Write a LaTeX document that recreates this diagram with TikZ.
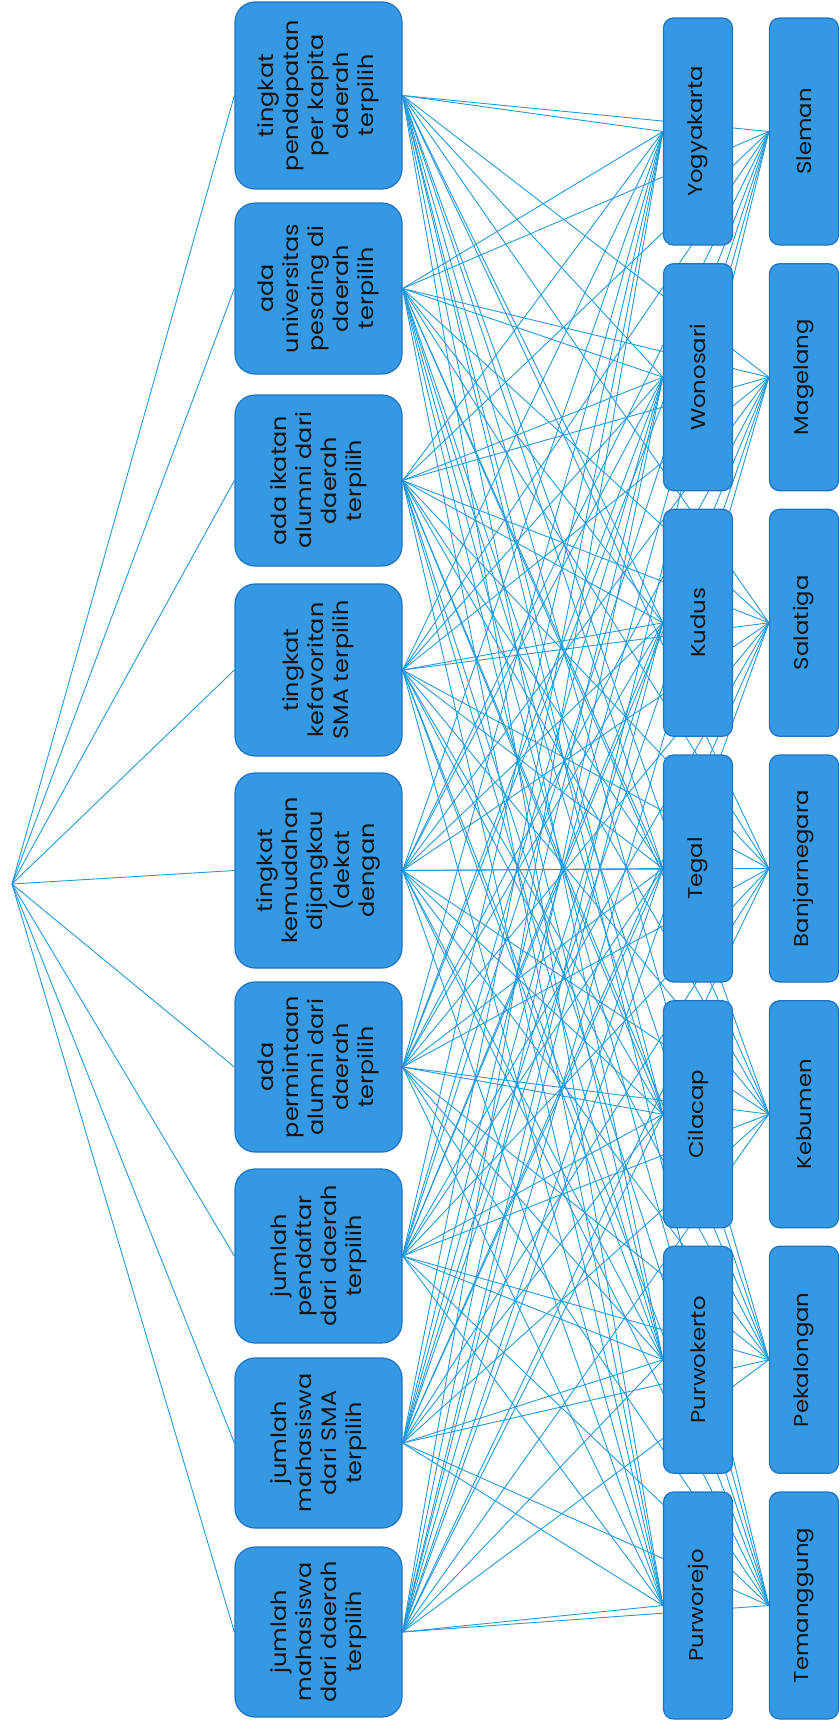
\documentclass[tikz,border=0pt]{standalone}
\usepackage{fontspec}
\setmainfont[FakeStretch=1.14]{Poppins}
\usetikzlibrary{backgrounds}
\definecolor{boxfill}{HTML}{3598E3}
\definecolor{boxedge}{HTML}{1E74C4}
\definecolor{wirecol}{HTML}{2199DA}
\definecolor{txt}{HTML}{141414}
\newcommand{\crittext}[1]{\rotatebox{90}{\fontsize{21}{25}\selectfont\begin{tabular}{@{}c@{}}#1\end{tabular}}}
\newcommand{\alttext}[1]{\rotatebox{90}{\fontsize{20}{25}\selectfont #1}}
\tikzset{
  critbox/.style={draw=boxedge, line width=1.2pt, fill=boxfill, rounded corners=20pt,
    minimum width=167pt, inner sep=0pt, text=txt},
  altbox/.style={draw=boxedge, line width=1.2pt, fill=boxfill, rounded corners=10pt,
    minimum width=69pt, minimum height=227pt, inner sep=0pt, text=txt},
  wire/.style={draw=wirecol, line width=0.9pt}
}
\begin{document}
\begin{tikzpicture}[x=1pt, y=-1pt]
\useasboundingbox (0,0) rectangle (840,1724);
\coordinate (root) at (12,884);
% criteria
\node[critbox, minimum height=187pt] (c1) at (318.5,95.5) {\crittext{tingkat\\pendapatan\\per kapita\\daerah\\terpilih}};
\node[critbox, minimum height=171pt] (c2) at (318.5,288.5) {\crittext{ada\\universitas\\pesaing di\\daerah\\terpilih}};
\node[critbox, minimum height=171pt] (c3) at (318.5,480.5) {\crittext{ada ikatan\\alumni dari\\daerah\\terpilih}};
\node[critbox, minimum height=172pt] (c4) at (318.5,670) {\crittext{tingkat\\kefavoritan\\SMA terpilih}};
\node[critbox, minimum height=195pt] (c5) at (318.5,870.5) {\crittext{tingkat\\kemudahan\\dijangkau\\(dekat\\dengan}};
\node[critbox, minimum height=170pt] (c6) at (318.5,1067) {\crittext{ada\\permintaan\\alumni dari\\daerah\\terpilih}};
\node[critbox, minimum height=174pt] (c7) at (318.5,1256) {\crittext{jumlah\\pendaftar\\dari daerah\\terpilih}};
\node[critbox, minimum height=170pt] (c8) at (318.5,1443) {\crittext{jumlah\\mahasiswa\\dari SMA\\terpilih}};
\node[critbox, minimum height=170pt] (c9) at (318.5,1632) {\crittext{jumlah\\mahasiswa\\dari daerah\\terpilih}};
% alternatives, first column
\node[altbox] (m1) at (698,131.5) {\alttext{Yogyakarta}};
\node[altbox] (m2) at (698,377.2) {\alttext{Wonosari}};
\node[altbox] (m3) at (698,622.8) {\alttext{Kudus}};
\node[altbox] (m4) at (698,868.5) {\alttext{Tegal}};
\node[altbox] (m5) at (698,1114.2) {\alttext{Cilacap}};
\node[altbox] (m6) at (698,1359.8) {\alttext{Purwokerto}};
\node[altbox] (m7) at (698,1605.5) {\alttext{Purworejo}};
% alternatives, second column
\node[altbox] (r1) at (804,131.5) {\alttext{Sleman}};
\node[altbox] (r2) at (804,377.2) {\alttext{Magelang}};
\node[altbox] (r3) at (804,622.8) {\alttext{Salatiga}};
\node[altbox] (r4) at (804,868.5) {\alttext{Banjarnegara}};
\node[altbox] (r5) at (804,1114.2) {\alttext{Kebumen}};
\node[altbox] (r6) at (804,1359.8) {\alttext{Pekalongan}};
\node[altbox] (r7) at (804,1605.5) {\alttext{Temanggung}};
\begin{pgfonlayer}{background}
\foreach \c in {1,...,9} {
  \draw[wire] (root) -- (c\c.west);
  \foreach \a in {1,...,7} {
    \draw[wire] (c\c.east) -- (m\a.west);
    \draw[wire] (c\c.east) -- (r\a.west);
  }
}
\end{pgfonlayer}
\end{tikzpicture}
\end{document}
